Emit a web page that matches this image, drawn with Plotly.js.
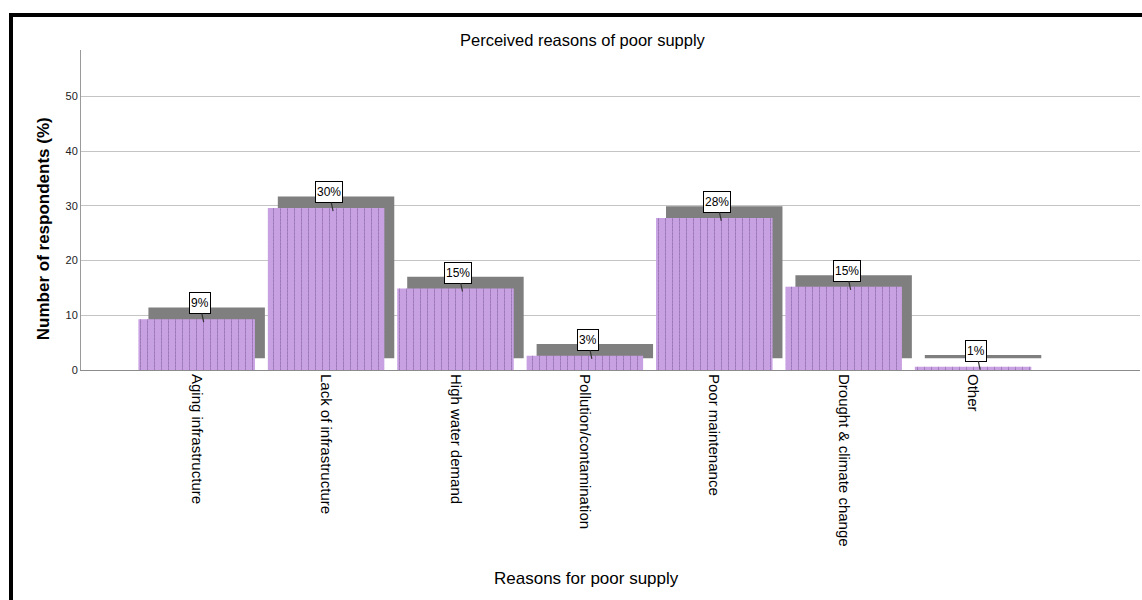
<!DOCTYPE html>
<html>
<head>
<meta charset="utf-8">
<script src="https://cdn.plot.ly/plotly-3.0.1.min.js"></script>
<style>
  html, body { margin: 0; padding: 0; background: #fff; }
  #wrap { position: relative; width: 1142px; height: 600px; overflow: hidden; }
  #chart { position: absolute; left: 0; top: 0; width: 1142px; height: 600px; }
  /* heavy frame along the top and left edges */
  #frame { position: absolute; left: 9px; top: 13px; right: -10px; bottom: -10px;
           border-left: 4px solid #000; border-top: 4px solid #000; pointer-events: none; }
</style>
</head>
<body>
<div id="wrap">
  <div id="chart"></div>
  <div id="frame"></div>
</div>
<script>
// Reasons for poor water supply, share of respondents (%)
const categories = [
  'Aging infrastructure',
  'Lack of infrastructure',
  'High water demand',
  'Pollution/contamination',
  'Poor maintenance',
  'Drought & climate change',
  'Other'
];
const percentages = [9.3, 29.6, 14.9, 2.6, 27.8, 15.2, 0.6];
const yTickValues = [0, 10, 20, 30, 40, 50];
const yTickLabels = ['0', '10', '20', '30', '40', '50'];

const FONT = 'Liberation Sans, Arial, sans-serif';
const PURPLE = '#c8a1e3';
const BAR_W = 0.9;
// drop-shadow displacement: right (category units) and up (value units)
const SHADOW_DX = 0.077;
const SHADOW_DY = 2.14;

const shadow = {
  type: 'bar', x: categories, y: percentages,
  base: percentages.map(() => SHADOW_DY),
  width: BAR_W, offset: -BAR_W / 2 + SHADOW_DX,
  marker: { color: '#7f7f7f', line: { width: 0 } },
  hoverinfo: 'skip', showlegend: false
};

// solid lavender body
const barFill = {
  type: 'bar', x: categories, y: percentages,
  width: BAR_W, offset: -BAR_W / 2,
  marker: { color: PURPLE, line: { width: 0 } },
  hoverinfo: 'skip', showlegend: false
};

// vertical hatch lines on top of the body
const hatch = {
  type: 'bar', x: categories, y: percentages,
  width: BAR_W, offset: -BAR_W / 2,
  marker: {
    color: 'rgba(0,0,0,0)', line: { width: 0 },
    pattern: { shape: '|', fgcolor: '#684a84', fillmode: 'overlay', size: 7, solidity: 0.14 }
  },
  hoverinfo: 'skip', showlegend: false
};

// thin horizontal strokes in the fill colour break the hatch into dotted lines
const dotBreaks = {
  type: 'bar', x: categories, y: percentages,
  width: BAR_W, offset: -BAR_W / 2,
  marker: {
    color: 'rgba(0,0,0,0)', line: { width: 0 },
    pattern: { shape: '-', fgcolor: PURPLE, fillmode: 'overlay', size: 3.4, solidity: 0.3 }
  },
  hoverinfo: 'skip', showlegend: false
};

const valueLabels = categories.map((c, i) => ({
  x: c, y: percentages[i], xref: 'x', yref: 'y',
  text: Math.round(percentages[i]) + '%',
  showarrow: true, arrowhead: 0, arrowwidth: 1.2, arrowcolor: '#333',
  ax: -4, ay: -19, xshift: 7, yshift: -3,
  height: 18,
  bgcolor: '#ffffff', bordercolor: '#000000', borderwidth: 1, borderpad: 1,
  font: { family: FONT, size: 12, color: '#000' }
}));

const axisTitles = [
  { text: 'Reasons for poor supply', xref: 'paper', yref: 'paper', x: 0.477, y: 0,
    yshift: -208, showarrow: false, xanchor: 'center', yanchor: 'middle',
    font: { family: FONT, size: 17, color: '#000' } },
  { text: '<b>Number of respondents (%)</b>', xref: 'paper', yref: 'paper', x: 0, y: 0.44,
    xshift: -38, showarrow: false, textangle: -90, xanchor: 'center', yanchor: 'middle',
    font: { family: FONT, size: 17, color: '#000' } }
];

const layout = {
  width: 1142, height: 600,
  margin: { l: 81, r: 2, t: 50, b: 230 },
  paper_bgcolor: '#ffffff', plot_bgcolor: '#ffffff',
  barmode: 'overlay',
  font: { family: FONT, color: '#000' },
  title: {
    text: 'Perceived reasons of poor supply',
    xref: 'container', x: 0.51, xanchor: 'center',
    yref: 'container', y: 1 - 40 / 600, yanchor: 'middle',
    font: { family: FONT, size: 16.5, color: '#000' }
  },
  xaxis: {
    type: 'category', range: [-0.894, 7.29],
    tickangle: 90, ticks: '', showgrid: false, zeroline: false,
    showline: true, linecolor: '#8c8c8c', linewidth: 1,
    tickfont: { family: FONT, size: 15, color: '#000' },
    automargin: false
  },
  yaxis: {
    range: [0, 58.5], tickvals: yTickValues, ticktext: yTickLabels,
    ticks: '', showgrid: true, gridcolor: '#c4c4c4', gridwidth: 1,
    zeroline: false, showline: true, linecolor: '#9a9a9a', linewidth: 1,
    tickfont: { family: FONT, size: 11, color: '#222' },
    automargin: false
  },
  annotations: valueLabels.concat(axisTitles),
  showlegend: false
};

Plotly.newPlot('chart', [shadow, barFill, hatch, dotBreaks], layout, { staticPlot: true, displayModeBar: false });
</script>
</body>
</html>
